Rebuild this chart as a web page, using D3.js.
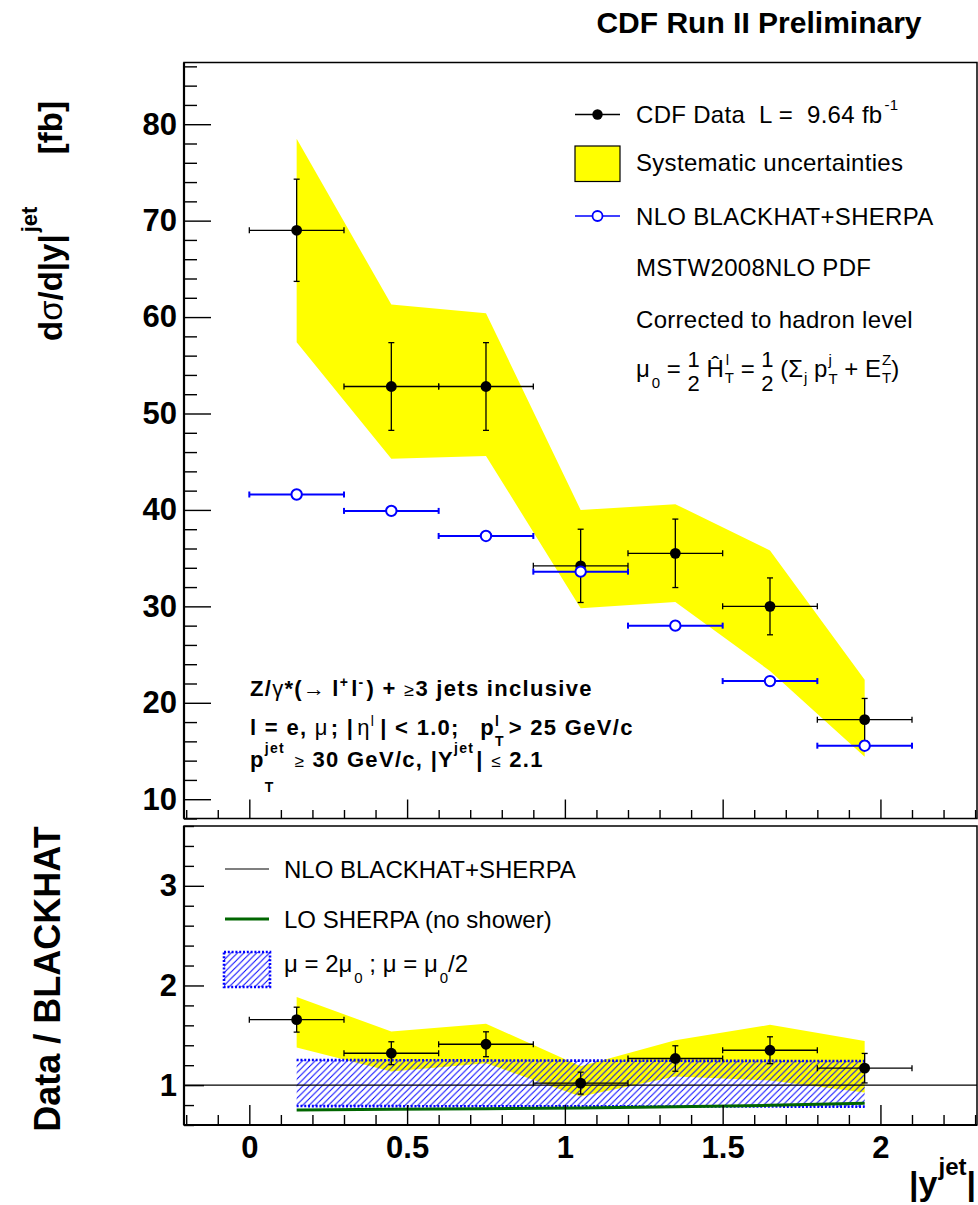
<!DOCTYPE html>
<html>
<head>
<meta charset="utf-8">
<script src="https://cdn.jsdelivr.net/npm/d3@7"></script>
<style>
  html, body { margin: 0; padding: 0; background: #fff; }
  svg { display: block; }
  text { font-family: 'Liberation Sans', Arial, Helvetica, sans-serif; white-space: pre; }
</style>
</head>
<body>
<svg id="chart" width="978" height="1205"></svg>
<script>
// ---- data: Z/gamma* + >=3 jets, differential in |y^jet| ----
const binCenters    = [0.15, 0.45, 0.75, 1.05, 1.35, 1.65, 1.95];
const binHalfWidths = [0.15, 0.15, 0.15, 0.15, 0.15, 0.15, 0.15];

// cross section [fb]
const dataXsec    = [69.0, 52.8, 52.8, 34.2, 35.5, 30.0, 18.25];
const dataXsecErr = [5.3, 4.55, 4.55, 3.8, 3.55, 2.95, 2.2];
const systHigh    = [78.5, 61.3, 60.4, 40.0, 40.6, 35.8, 22.4];
const systLow     = [57.4, 45.3, 45.6, 29.8, 30.45, 23.3, 14.4];
const nloXsec     = [41.6, 39.9, 37.3, 33.6, 28.0, 22.25, 15.55];

// ratio to NLO BLACKHAT+SHERPA
const ratioData     = [1.657, 1.32, 1.41, 1.02, 1.267, 1.35, 1.17];
const ratioErr      = [0.125, 0.115, 0.125, 0.11, 0.128, 0.135, 0.148];
const ratioSystHigh = [1.885, 1.537, 1.617, 1.19, 1.45, 1.605, 1.444];
const ratioSystLow  = [1.378, 1.137, 1.22, 0.887, 1.087, 1.047, 0.926];
const scaleUp       = [1.252, 1.25, 1.248, 1.246, 1.244, 1.243, 1.242];
const scaleDown     = [0.79, 0.789, 0.788, 0.787, 0.786, 0.785, 0.784];
const loSherpa      = [0.75, 0.757, 0.763, 0.77, 0.783, 0.797, 0.817];

// axis ticks
const xTicks       = [0, 0.5, 1, 1.5, 2];
const xTickLabels  = ['0', '0.5', '1', '1.5', '2'];
const yTicksTop    = [10, 20, 30, 40, 50, 60, 70, 80];
const yTicksBottom = [1, 2, 3];

// ---- layout ----
const FONT = "'Liberation Sans', Arial, Helvetica, sans-serif";
const svg = d3.select('#chart');
const X0 = 184, X1 = 977;
const TOP = { y0: 62.5, y1: 818.5 };
const BOT = { y0: 826, y1: 1125 };

const x = d3.scaleLinear().domain([-0.207, 2.306]).range([X0, X1]);
const yTop = d3.scaleLinear().domain([8, 86.4]).range([TOP.y1, TOP.y0]);
const yBot = d3.scaleLinear().domain([0.6, 3.6]).range([BOT.y1, BOT.y0]);

const defs = svg.append('defs');
const pat = defs.append('pattern').attr('id', 'hatch')
  .attr('patternUnits', 'userSpaceOnUse').attr('width', 6.4).attr('height', 6.4);
pat.append('path').attr('d', 'M-1,1 l2,-2 M0,6.4 l6.4,-6.4 M5.4,7.4 l2,-2')
  .attr('stroke', '#0000ff').attr('stroke-width', 1);

// ---- rich text helper (sub/superscripts, stacked fractions) ----
function rich(parent, x0, y0, parts, o) {
  const size = o.size, weight = o.weight || 'normal', ls = o.ls || 0, pad = o.pad || 0;
  let cx = x0;
  const mk = (txt, xx, yy, fs, fw) => parent.append('text')
    .attr('x', xx).attr('y', yy).attr('font-size', fs).attr('font-weight', fw)
    .attr('font-family', FONT).attr('letter-spacing', ls).attr('fill', '#000').text(txt);
  parts.forEach(p => {
    cx += p.dx || 0;
    if (p.frac) {
      const fs = p.size || size;
      const n = mk(p.frac[0], cx, y0 + p.numDy, fs, weight);
      const d = mk(p.frac[1], cx, y0 + p.denDy, fs, weight);
      const wn = n.node().getComputedTextLength(), wd = d.node().getComputedTextLength();
      const w = Math.max(wn, wd);
      n.attr('x', cx + (w - wn) / 2); d.attr('x', cx + (w - wd) / 2);
      cx += w;
      return;
    }
    const fw = p.weight || weight;
    const t = mk(p.t, cx, y0, p.size || size, fw);
    const w = t.node().getComputedTextLength();
    let extra = 0;
    const ss = p.scriptSize || size * 0.68;
    if (p.sup) {
      const s = mk(p.sup, cx + w + (p.supDx || 0), y0 + (p.supDy !== undefined ? p.supDy : -size * 0.45), ss, fw);
      extra = Math.max(extra, s.node().getComputedTextLength() + (p.supDx || 0) + pad);
    }
    if (p.sub) {
      const s = mk(p.sub, cx + w + (p.subDx || 0), y0 + (p.subDy !== undefined ? p.subDy : size * 0.3), ss, fw);
      extra = Math.max(extra, s.node().getComputedTextLength() + (p.subDx || 0) + pad);
    }
    cx += w + extra;
  });
  return cx - x0;
}

// ---- upper panel ----
const gTop = svg.append('g');

// systematic band
gTop.append('path')
  .datum(binCenters.map((c, i) => ({ c, lo: systLow[i], hi: systHigh[i] })))
  .attr('fill', '#ffff00')
  .attr('d', d3.area().x(d => x(d.c)).y0(d => yTop(d.lo)).y1(d => yTop(d.hi)));

function errorBars(g, yS, vals, errs, color, sw) {
  const cap = 3;
  const gg = g.append('g').attr('stroke', color).attr('stroke-width', sw).attr('fill', 'none');
  binCenters.forEach((c, i) => {
    const xl = x(c - binHalfWidths[i]), xr = x(c + binHalfWidths[i]);
    const yy = yS(vals[i]);
    gg.append('line').attr('x1', xl).attr('x2', xr).attr('y1', yy).attr('y2', yy);
    gg.append('line').attr('x1', xl).attr('x2', xl).attr('y1', yy - cap).attr('y2', yy + cap);
    gg.append('line').attr('x1', xr).attr('x2', xr).attr('y1', yy - cap).attr('y2', yy + cap);
    if (errs) {
      const xc = x(c), yt = yS(vals[i] + errs[i]), yb = yS(vals[i] - errs[i]);
      gg.append('line').attr('x1', xc).attr('x2', xc).attr('y1', yt).attr('y2', yb);
      gg.append('line').attr('x1', xc - cap).attr('x2', xc + cap).attr('y1', yt).attr('y2', yt);
      gg.append('line').attr('x1', xc - cap).attr('x2', xc + cap).attr('y1', yb).attr('y2', yb);
    }
  });
}

// CDF data
errorBars(gTop, yTop, dataXsec, dataXsecErr, '#000', 1.3);
gTop.append('g').selectAll('circle').data(dataXsec).join('circle')
  .attr('cx', (d, i) => x(binCenters[i])).attr('cy', d => yTop(d)).attr('r', 5.4).attr('fill', '#000');

// NLO prediction
errorBars(gTop, yTop, nloXsec, null, '#0000ff', 2);
gTop.append('g').selectAll('circle').data(nloXsec).join('circle')
  .attr('cx', (d, i) => x(binCenters[i])).attr('cy', d => yTop(d)).attr('r', 5.2)
  .attr('fill', '#fff').attr('stroke', '#0000ff').attr('stroke-width', 2);

// axes of upper panel
function styleAxis(g) {
  g.select('.domain').remove();
  g.selectAll('.tick line').attr('stroke', '#000').attr('stroke-width', 1.4);
  g.selectAll('.tick text').attr('font-family', FONT).attr('font-weight', 'bold')
    .attr('font-size', 31).attr('fill', '#000');
}
const minorTop = d3.range(8, 86.5, 2).filter(v => v % 10 !== 0);
gTop.append('g').attr('transform', `translate(${X0},0)`)
  .call(d3.axisLeft(yTop).tickValues(yTicksTop).tickSize(-27).tickPadding(7).tickFormat(d3.format('d')))
  .call(styleAxis);
gTop.append('g').attr('transform', `translate(${X0},0)`)
  .call(d3.axisLeft(yTop).tickValues(minorTop).tickSize(-13).tickFormat(''))
  .call(styleAxis);
const minorX = d3.range(-0.2, 2.31, 0.1).map(v => +v.toFixed(1)).filter(v => Math.abs(v * 2 - Math.round(v * 2)) > 1e-6);
gTop.append('g').attr('transform', `translate(0,${TOP.y1})`)
  .call(d3.axisBottom(x).tickValues(xTicks).tickSize(-19).tickFormat(''))
  .call(styleAxis);
gTop.append('g').attr('transform', `translate(0,${TOP.y1})`)
  .call(d3.axisBottom(x).tickValues(minorX).tickSize(-8.5).tickFormat(''))
  .call(styleAxis);

gTop.append('rect').attr('x', X0).attr('y', TOP.y0).attr('width', X1 - X0).attr('height', TOP.y1 - TOP.y0)
  .attr('fill', 'none').attr('stroke', '#000').attr('stroke-width', 1.5);
gTop.append('line').attr('x1', X0).attr('x2', X0).attr('y1', TOP.y0).attr('y2', TOP.y1)
  .attr('stroke', '#000').attr('stroke-width', 2.2);

// legend (upper)
const LX0 = 575, LX1 = 620, LTX = 636;
const lg = gTop.append('g');
lg.append('line').attr('x1', LX0).attr('x2', LX1).attr('y1', 114.5).attr('y2', 114.5).attr('stroke', '#000').attr('stroke-width', 1.3);
lg.append('circle').attr('cx', (LX0 + LX1) / 2).attr('cy', 114.5).attr('r', 5.2).attr('fill', '#000');
rich(lg, LTX, 123.3, [{ t: 'CDF Data  L =  9.64 fb', sup: '-1', supDy: -13, scriptSize: 15, supDx: 2 }], { size: 24, ls: 0.3 });

lg.append('rect').attr('x', LX0).attr('y', 146).attr('width', LX1 - LX0).attr('height', 35.5)
  .attr('fill', '#ffff00').attr('stroke', '#000').attr('stroke-width', 1.2);
rich(lg, LTX, 170.5, [{ t: 'Systematic uncertainties' }], { size: 24, ls: 0.3 });

lg.append('line').attr('x1', LX0).attr('x2', LX1).attr('y1', 216).attr('y2', 216).attr('stroke', '#0000ff').attr('stroke-width', 1.5);
lg.append('circle').attr('cx', (LX0 + LX1) / 2).attr('cy', 216).attr('r', 5).attr('fill', '#fff').attr('stroke', '#0000ff').attr('stroke-width', 1.8);
rich(lg, LTX, 224.5, [{ t: 'NLO BLACKHAT+SHERPA' }], { size: 24, ls: 0.3 });

rich(lg, LTX, 275.5, [{ t: 'MSTW2008NLO PDF' }], { size: 24, ls: 0.3 });
rich(lg, LTX, 327.5, [{ t: 'Corrected to hadron level' }], { size: 24, ls: 0.3 });
rich(lg, LTX, 377, [
  { t: 'μ', sub: '0', subDy: 11, scriptSize: 15, subDx: 2 },
  { t: ' = ' },
  { frac: ['1', '2'], numDy: -10, denDy: 14, size: 22 },
  { t: ' ' },
  { t: 'Ĥ', sup: 'l', sub: 'T', supDy: -12, subDy: 6, scriptSize: 15, supDx: 2, subDx: 1 },
  { t: ' = ' },
  { frac: ['1', '2'], numDy: -10, denDy: 14, size: 22 },
  { t: ' (Σ', sub: 'j', subDy: 6, scriptSize: 15, subDx: 1 },
  { t: ' p', sup: 'j', sub: 'T', supDy: -12, subDy: 7, scriptSize: 15, supDx: 1, subDx: 1 },
  { t: ' + E', sup: 'Z', sub: 'T', supDy: -12, subDy: 6, scriptSize: 15, supDx: 1, subDx: 1 },
  { t: ')' }
], { size: 24 });

// process description (bold)
const ann = gTop.append('g');
const annOpt = { size: 22, weight: 'bold', ls: 1.3, pad: 2 };
rich(ann, 250, 696, [
  { t: 'Z/' }, { t: 'γ', weight: 'normal' }, { t: '*(' }, { t: '→', weight: 'normal' },
  { t: 'l', dx: 6, sup: '+', supDy: -9, scriptSize: 14 }, { t: 'l', sup: '-', supDy: -9, scriptSize: 14 },
  { t: ') + ' }, { t: '≥', weight: 'normal', size: 18 }, { t: '3 jets inclusive' }
], annOpt);
rich(ann, 250, 735, [
  { t: 'l = e, ' }, { t: 'μ', weight: 'normal' }, { t: '; |', dx: 2 },
  { t: 'η', dx: 3, weight: 'normal', sup: 'l', supDy: -9, scriptSize: 14 },
  { t: '| < 1.0; ', dx: 3 },
  { t: 'p', dx: 13, sup: 'l', sub: 'T', supDy: -9, subDy: 11, scriptSize: 14 },
  { t: '> 25 GeV/c', dx: 2 }
], annOpt);
rich(ann, 250, 767, [
  { t: 'p', sup: 'jet', sub: 'T', supDy: -14, subDy: 25, scriptSize: 14 },
  { t: ' ' }, { t: '≥', weight: 'normal', size: 17 }, { t: ' 30 GeV/c, |Y', sup: 'jet', supDy: -14, scriptSize: 14 },
  { t: '| ' }, { t: '≤', weight: 'normal', size: 17 }, { t: ' 2.1' }
], annOpt);

// ---- lower panel ----
const gBot = svg.append('g');
const bandRows = binCenters.map((c, i) => ({ c, lo: ratioSystLow[i], hi: ratioSystHigh[i], su: scaleUp[i], sd: scaleDown[i], lo2: loSherpa[i] }));

gBot.append('path').datum(bandRows).attr('fill', '#ffff00')
  .attr('d', d3.area().x(d => x(d.c)).y0(d => yBot(d.lo)).y1(d => yBot(d.hi)));
gBot.append('path').datum(bandRows).attr('fill', 'url(#hatch)')
  .attr('d', d3.area().x(d => x(d.c)).y0(d => yBot(d.sd)).y1(d => yBot(d.su)));
['su', 'sd'].forEach(k => gBot.append('path').datum(bandRows)
  .attr('fill', 'none').attr('stroke', '#0000ff').attr('stroke-width', 2.6).attr('stroke-dasharray', '2,1.8')
  .attr('d', d3.line().x(d => x(d.c)).y(d => yBot(d[k]))));

// NLO reference line at unity
gBot.append('line').attr('x1', X0).attr('x2', X1).attr('y1', yBot(1)).attr('y2', yBot(1))
  .attr('stroke', '#000').attr('stroke-width', 1.3);

// LO SHERPA
gBot.append('path').datum(bandRows).attr('fill', 'none').attr('stroke', '#006600').attr('stroke-width', 3)
  .attr('d', d3.line().x(d => x(d.c)).y(d => yBot(d.lo2)));

// data / NLO
errorBars(gBot, yBot, ratioData, ratioErr, '#000', 1.3);
gBot.append('g').selectAll('circle').data(ratioData).join('circle')
  .attr('cx', (d, i) => x(binCenters[i])).attr('cy', d => yBot(d)).attr('r', 5.4).attr('fill', '#000');

// axes of lower panel
const minorBot = d3.range(0.6, 3.61, 0.2).map(v => +v.toFixed(1)).filter(v => Math.abs(v - Math.round(v)) > 1e-6);
gBot.append('g').attr('transform', `translate(${X0},0)`)
  .call(d3.axisLeft(yBot).tickValues(yTicksBottom).tickSize(-20).tickPadding(7).tickFormat(d3.format('d')))
  .call(styleAxis);
gBot.append('g').attr('transform', `translate(${X0},0)`)
  .call(d3.axisLeft(yBot).tickValues(minorBot).tickSize(-10).tickFormat(''))
  .call(styleAxis);
gBot.append('g').attr('transform', `translate(0,${BOT.y1})`)
  .call(d3.axisBottom(x).tickValues(xTicks).tickSize(-20).tickPadding(11).tickFormat((d, i) => xTickLabels[i]))
  .call(styleAxis);
gBot.append('g').attr('transform', `translate(0,${BOT.y1})`)
  .call(d3.axisBottom(x).tickValues(minorX).tickSize(-10).tickFormat(''))
  .call(styleAxis);

gBot.append('rect').attr('x', X0).attr('y', BOT.y0).attr('width', X1 - X0).attr('height', BOT.y1 - BOT.y0)
  .attr('fill', 'none').attr('stroke', '#000').attr('stroke-width', 1.5);
gBot.append('line').attr('x1', X0).attr('x2', X0).attr('y1', BOT.y0).attr('y2', BOT.y1)
  .attr('stroke', '#000').attr('stroke-width', 2.2);
gBot.append('line').attr('x1', X0).attr('x2', X1).attr('y1', BOT.y1).attr('y2', BOT.y1)
  .attr('stroke', '#000').attr('stroke-width', 2.2);

// legend (lower)
const lg2 = gBot.append('g');
lg2.append('line').attr('x1', 225).attr('x2', 269).attr('y1', 869).attr('y2', 869).attr('stroke', '#000').attr('stroke-width', 1.2);
rich(lg2, 284, 878, [{ t: 'NLO BLACKHAT+SHERPA' }], { size: 24 });
lg2.append('line').attr('x1', 225).attr('x2', 269).attr('y1', 919).attr('y2', 919).attr('stroke', '#006600').attr('stroke-width', 3);
rich(lg2, 284, 928, [{ t: 'LO SHERPA (no shower)' }], { size: 24 });
lg2.append('rect').attr('x', 224).attr('y', 952).attr('width', 46).attr('height', 35)
  .attr('fill', 'url(#hatch)').attr('stroke', '#0000ff').attr('stroke-width', 2.6).attr('stroke-dasharray', '2,1.8');
rich(lg2, 284, 972, [
  { t: 'μ = 2μ', sub: '0', subDy: 11, scriptSize: 15, subDx: 2 },
  { t: ' ; μ = μ', sub: '0', subDy: 11, scriptSize: 15, subDx: 2 },
  { t: '/2' }
], { size: 24 });

// ---- titles ----
svg.append('text').attr('x', 759).attr('y', 33).attr('text-anchor', 'middle')
  .attr('font-size', 30).attr('font-weight', 'bold').attr('font-family', FONT).text('CDF Run II Preliminary');

const yt = svg.append('g').attr('transform', 'translate(62,341) rotate(-90)');
rich(yt, 0, 0, [
  { t: 'd' }, { t: 'σ', weight: 'normal' },
  { t: '/d|y|', sup: 'jet', supDy: -25, scriptSize: 22, supDx: 2 }
], { size: 33, weight: 'bold' });
yt.append('text').attr('x', 240).attr('y', 0).attr('text-anchor', 'end')
  .attr('font-size', 33).attr('font-weight', 'bold').attr('font-family', FONT).text('[fb]');

svg.append('text').attr('transform', 'translate(60,979) rotate(-90)').attr('text-anchor', 'middle')
  .attr('font-size', 36).attr('font-weight', 'bold').attr('font-family', FONT).text('Data / BLACKHAT');

const xt = svg.append('g');
const xtw = rich(xt, 0, 1195, [{ t: '|y', sup: 'jet', supDy: -20, scriptSize: 24, supDx: 1 }, { t: '|' }], { size: 34, weight: 'bold' });
xt.attr('transform', `translate(${976 - xtw},0)`);
</script>
</body>
</html>
